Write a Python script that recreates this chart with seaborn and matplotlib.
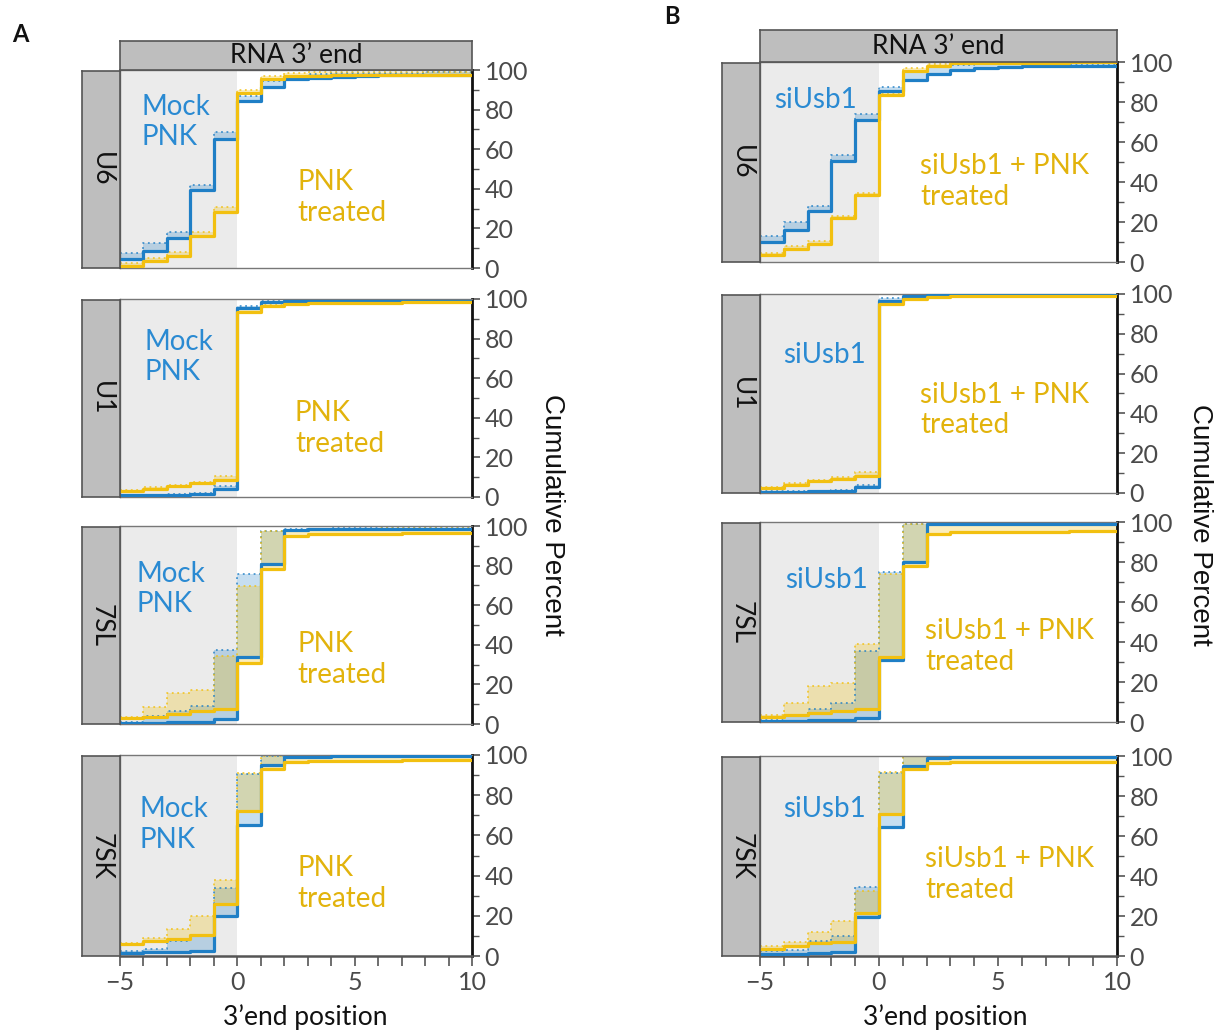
import numpy as np
import pandas as pd
import matplotlib
matplotlib.use("Agg")
import matplotlib.pyplot as plt
import seaborn as sns

# ---------------- data (cumulative percent, segment starting at each position) ----------------
positions = [-5, -4, -3, -2, -1, 0, 1, 2, 3, 4, 5, 6, 7, 8, 9]
rnas = ["U6", "U1", "7SL", "7SK"]

# Panel A : Mock PNK (blue) vs PNK treated (gold)
A_U6_mock = [4.4, 8.6, 15, 39.4, 65.3, 84.4, 91.2, 95.3, 96.1, 96.5, 97, 97.3, 97.5, 97.6, 97.7]
A_U6_mock_hi = [7.8, 12.5, 18.4, 42, 68.7, 86.8, 94.4, 97, 98, 98.3, 98.5, 98.6, 98.7, 98.8, 98.8]
A_U6_pnk = [1.2, 3.5, 6, 16.2, 28.5, 88.5, 95.3, 96.8, 97.2, 97.3, 97.4, 97.4, 97.5, 97.5, 97.5]
A_U6_pnk_hi = [2.5, 5, 8, 18, 30.6, 90, 97, 98.5, 98.8, 99, 99, 99, 99, 99, 99]

A_U1_mock = [0.8, 0.9, 1.0, 1.5, 4.0, 95.3, 98.4, 98.8, 99, 99, 99, 99, 99, 99, 99]
A_U1_mock_hi = [1.0, 1.2, 1.4, 2.0, 5.5, 96.6, 99, 99.3, 99.4, 99.5, 99.5, 99.5, 99.5, 99.5, 99.5]
A_U1_pnk = [3, 4.2, 5.6, 7, 8.4, 93.6, 96.6, 97.6, 97.9, 98, 98.1, 98.2, 98.3, 98.4, 98.5]
A_U1_pnk_hi = [3.5, 4.8, 6.3, 7.8, 10.6, 95, 97.6, 98.4, 98.7, 98.8, 98.9, 99, 99, 99, 99]

A_7SL_mock = [0.5, 0.7, 0.8, 1.2, 2.5, 34, 80.8, 97.8, 98.3, 98.5, 98.5, 98.6, 98.6, 98.6, 98.6]
A_7SL_mock_hi = [1.0, 4.0, 6.5, 9.0, 37.3, 75.8, 97.3, 98.3, 98.7, 98.9, 99, 99, 99, 99, 99]
A_7SL_pnk = [2.8, 3.7, 5.3, 6.5, 7.8, 30.7, 78.3, 95, 95.8, 96, 96.1, 96.2, 96.3, 96.3, 96.4]
A_7SL_pnk_hi = [3.5, 8.7, 15.7, 17, 34.5, 69.8, 97.3, 98.2, 98.5, 98.6, 98.7, 98.8, 98.8, 98.8, 98.8]

A_7SK_mock = [1.7, 1.8, 2.0, 2.5, 20, 65, 95, 99, 99.2, 99.3, 99.3, 99.4, 99.4, 99.4, 99.4]
A_7SK_mock_hi = [2.5, 3.3, 7.5, 10, 34, 90.3, 99.3, 99.6, 99.7, 99.8, 99.8, 99.8, 99.8, 99.8, 99.8]
A_7SK_pnk = [5.8, 7.5, 8.3, 10.3, 25.8, 72, 92.8, 96.7, 97, 97.1, 97.2, 97.2, 97.3, 97.3, 97.3]
A_7SK_pnk_hi = [6.7, 8.8, 13.3, 20, 37.7, 91, 99.5, 99.7, 99.7, 99.7, 99.7, 99.7, 99.7, 99.7, 99.7]

# Panel B : siUsb1 (blue) vs siUsb1 + PNK treated (gold)
B_U6_si = [9.8, 16.2, 25.3, 50.7, 71.2, 85.5, 90.8, 94.2, 96.2, 97, 97.5, 97.8, 97.8, 97.9, 97.9]
B_U6_si_hi = [12.8, 19.8, 28.2, 53.5, 74, 87.5, 95.3, 97.5, 98.5, 98.8, 99, 99, 99, 99, 99]
B_U6_pnk = [3.3, 6.5, 9, 22, 33.7, 83.5, 95.7, 97.8, 99.5, 99.6, 99.7, 99.7, 99.7, 99.8, 99.8]
B_U6_pnk_hi = [4.5, 7.8, 10.3, 23.2, 34.5, 84.5, 97, 99, 99.8, 99.9, 99.9, 99.9, 99.9, 99.9, 99.9]

B_U1_si = [0.5, 0.6, 0.8, 1.0, 3.0, 96.6, 99, 99.3, 99.4, 99.5, 99.5, 99.5, 99.5, 99.5, 99.5]
B_U1_si_hi = [0.8, 0.9, 1.1, 1.4, 4.2, 97.8, 99.5, 99.7, 99.7, 99.8, 99.8, 99.8, 99.8, 99.8, 99.8]
B_U1_pnk = [2.5, 4.2, 5.8, 7, 8.4, 95, 97.5, 98.6, 98.8, 98.9, 99, 99, 99, 99.1, 99.1]
B_U1_pnk_hi = [3, 4.8, 6.5, 7.8, 10.4, 96, 98.3, 99.2, 99.3, 99.4, 99.4, 99.4, 99.4, 99.4, 99.4]

B_7SL_si = [0.3, 0.5, 0.8, 1.2, 2.0, 31, 80, 98.8, 99, 99.1, 99.2, 99.2, 99.2, 99.2, 99.2]
B_7SL_si_hi = [0.8, 3.7, 6.7, 9.5, 35.5, 75, 98.8, 99.2, 99.4, 99.5, 99.5, 99.5, 99.5, 99.5, 99.5]
B_7SL_pnk = [2.5, 3.3, 4.5, 5.5, 6.7, 32.5, 77.8, 94.2, 94.8, 95, 95.1, 95.2, 95.2, 95.3, 95.3]
B_7SL_pnk_hi = [3.3, 9.5, 17.8, 19.5, 39.2, 73.8, 98.8, 99.2, 99.3, 99.3, 99.3, 99.3, 99.3, 99.3, 99.3]

B_7SK_si = [0.8, 1.2, 1.7, 2.2, 19.6, 64.5, 95, 98.8, 99.3, 99.5, 99.5, 99.5, 99.5, 99.5, 99.5]
B_7SK_si_hi = [2.5, 3, 7.5, 10, 34.5, 91.4, 99.8, 99.9, 99.9, 99.9, 99.9, 99.9, 99.9, 99.9, 99.9]
B_7SK_pnk = [3.7, 5, 6.6, 7.1, 21.6, 71.1, 93.4, 96.7, 97, 97.1, 97.1, 97.2, 97.2, 97.2, 97.2]
B_7SK_pnk_hi = [5, 7, 12, 17.4, 32.4, 92.2, 99.8, 99.8, 99.8, 99.8, 99.8, 99.8, 99.8, 99.8, 99.8]

A_data = {
    "U6": (A_U6_mock, A_U6_mock_hi, A_U6_pnk, A_U6_pnk_hi),
    "U1": (A_U1_mock, A_U1_mock_hi, A_U1_pnk, A_U1_pnk_hi),
    "7SL": (A_7SL_mock, A_7SL_mock_hi, A_7SL_pnk, A_7SL_pnk_hi),
    "7SK": (A_7SK_mock, A_7SK_mock_hi, A_7SK_pnk, A_7SK_pnk_hi),
}
B_data = {
    "U6": (B_U6_si, B_U6_si_hi, B_U6_pnk, B_U6_pnk_hi),
    "U1": (B_U1_si, B_U1_si_hi, B_U1_pnk, B_U1_pnk_hi),
    "7SL": (B_7SL_si, B_7SL_si_hi, B_7SL_pnk, B_7SL_pnk_hi),
    "7SK": (B_7SK_si, B_7SK_si_hi, B_7SK_pnk, B_7SK_pnk_hi),
}

A_labels = ("Mock\nPNK", "PNK\ntreated")
B_labels = ("siUsb1", "siUsb1 + PNK\ntreated")

# ---------------- styling ----------------
sns.set_theme(style="white")
plt.rcParams["font.family"] = ["Lato", "DejaVu Sans"]

BLUE = "#1f7fc6"
GOLD = "#f2c010"
BLUE_TXT = "#2a8ad2"
GOLD_TXT = "#e2b30c"
SHADE = "#ebebeb"
STRIP = "#bebebe"
TICK_TXT = "#4a4a4a"

W, H = 1217, 1031
fig = plt.figure(figsize=(W / 100, H / 100), dpi=100)


def rect(x0, y0, x1, y1):
    return [x0 / W, 1 - y1 / H, (x1 - x0) / W, (y1 - y0) / H]


def strip_axes(r, text, rotation):
    sa = fig.add_axes(r)
    sa.set_facecolor(STRIP)
    sa.set_xticks([])
    sa.set_yticks([])
    for s in sa.spines.values():
        s.set_color("#555555")
        s.set_linewidth(1.2)
        s.set_visible(True)
    sa.text(0.5, 0.5, text, rotation=rotation, ha="center", va="center",
            fontsize=19, color="#111111", transform=sa.transAxes)
    return sa


def draw_panel(data, labels, x0, x1, rows, top_strip, left_strip_x0,
               text_pos, ylab_xy, xlab_xy):
    xs = positions + [positions[-1] + 1]
    for i, rna in enumerate(rnas):
        y0, y1 = rows[i]
        ax = fig.add_axes(rect(x0, y0, x1, y1))
        ax.set_facecolor("white")
        ax.axvspan(-5, 0, color=SHADE, zorder=0, lw=0)
        lo_b, hi_b, lo_g, hi_g = [list(v) + [v[-1]] for v in data[rna]]
        df = pd.DataFrame({"pos": xs, "lo_b": lo_b, "hi_b": hi_b,
                           "lo_g": lo_g, "hi_g": hi_g})
        ax.fill_between(df["pos"], df["lo_b"], df["hi_b"], step="post",
                        color=BLUE, alpha=0.25, lw=0, zorder=1)
        ax.fill_between(df["pos"], df["lo_g"], df["hi_g"], step="post",
                        color=GOLD, alpha=0.28, lw=0, zorder=1)
        sns.lineplot(data=df, x="pos", y="hi_b", ax=ax, color=BLUE,
                     drawstyle="steps-post", linestyle=(0, (1, 2)), lw=1.3,
                     alpha=0.8, zorder=2)
        sns.lineplot(data=df, x="pos", y="hi_g", ax=ax, color=GOLD,
                     drawstyle="steps-post", linestyle=(0, (1, 2)), lw=1.3,
                     alpha=0.8, zorder=2)
        sns.lineplot(data=df, x="pos", y="lo_b", ax=ax, color=BLUE,
                     drawstyle="steps-post", lw=2.3, zorder=3)
        sns.lineplot(data=df, x="pos", y="lo_g", ax=ax, color=GOLD,
                     drawstyle="steps-post", lw=2.3, zorder=4)
        ax.set_xlim(-5, 10)
        ax.set_ylim(0, 100)
        ax.set_xlabel("")
        ax.set_ylabel("")
        # right-hand y axis
        ax.yaxis.tick_right()
        ax.set_yticks([0, 20, 40, 60, 80, 100])
        ax.set_yticks([10, 30, 50, 70, 90], minor=True)
        ax.tick_params(axis="y", which="major", right=True, left=False,
                       length=6, width=1.2, color="#555555", pad=3,
                       labelsize=18, labelcolor=TICK_TXT)
        ax.tick_params(axis="y", which="minor", right=True, left=False,
                       length=5, width=1.0, color="#555555")
        for side in ["top", "left", "bottom"]:
            ax.spines[side].set_color("#777777")
            ax.spines[side].set_linewidth(1.0)
        ax.spines["right"].set_color("#111111")
        ax.spines["right"].set_linewidth(2.0)
        ax.set_xticks(list(range(-5, 11)))
        if i == len(rnas) - 1:
            ax.set_xticklabels(["\u22125" if t == -5 else (str(t) if t % 5 == 0 else "")
                                for t in range(-5, 11)])
            ax.tick_params(axis="x", bottom=True, length=7, width=1.2,
                           color="#555555", labelsize=18, labelcolor=TICK_TXT, pad=4)
            ax.spines["bottom"].set_color("#555555")
            ax.spines["bottom"].set_linewidth(1.8)
        else:
            ax.set_xticklabels([])
            ax.tick_params(axis="x", bottom=False)
        # annotations
        (bx, by), (gx, gy) = text_pos[i]
        ax.text(bx, by, labels[0], transform=ax.transAxes, ha="left", va="top",
                fontsize=20, color=BLUE_TXT, linespacing=1.22, zorder=5)
        ax.text(gx, gy, labels[1], transform=ax.transAxes, ha="left", va="top",
                fontsize=20, color=GOLD_TXT, linespacing=1.22, zorder=5)
        # left strip
        strip_axes(rect(left_strip_x0, y0 + 1, x0, y1), rna, -90)
    # top strip
    strip_axes(rect(x0, top_strip[0], x1, top_strip[1]), "RNA 3\u2019 end", 0)
    fig.text(ylab_xy[0] / W, 1 - ylab_xy[1] / H, "Cumulative Percent",
             rotation=-90, ha="center", va="center", fontsize=20,
             family=["Liberation Sans", "DejaVu Sans"], color="#111111")
    fig.text(xlab_xy[0] / W, 1 - xlab_xy[1] / H, "3\u2019end position",
             ha="center", va="center", fontsize=19, color="#111111")


A_rows = [(70, 268), (299, 497), (526, 724), (755, 956)]
A_text = [((0.062, 0.88), (0.503, 0.50)),
          ((0.071, 0.85), (0.497, 0.49)),
          ((0.048, 0.825), (0.503, 0.47)),
          ((0.054, 0.795), (0.503, 0.50))]
draw_panel(A_data, A_labels, 120, 472, A_rows, (41, 70), 82, A_text,
           (552, 515), (305, 1017))

B_rows = [(62, 262), (294, 493), (522, 722), (756, 956)]
B_text = [((0.04, 0.875), (0.448, 0.545)),
          ((0.064, 0.76), (0.448, 0.56)),
          ((0.07, 0.775), (0.462, 0.52)),
          ((0.064, 0.80), (0.462, 0.55))]
draw_panel(B_data, B_labels, 760, 1117, B_rows, (30, 62), 722, B_text,
           (1200, 525), (945, 1017))

fig.text(20 / W, 1 - 35 / H, "A", fontsize=17, fontweight="bold",
         ha="center", va="center", color="#111111")
fig.text(672 / W, 1 - 16 / H, "B", fontsize=17, fontweight="bold",
         ha="center", va="center", color="#111111")

fig.savefig("out.png", dpi=100)
